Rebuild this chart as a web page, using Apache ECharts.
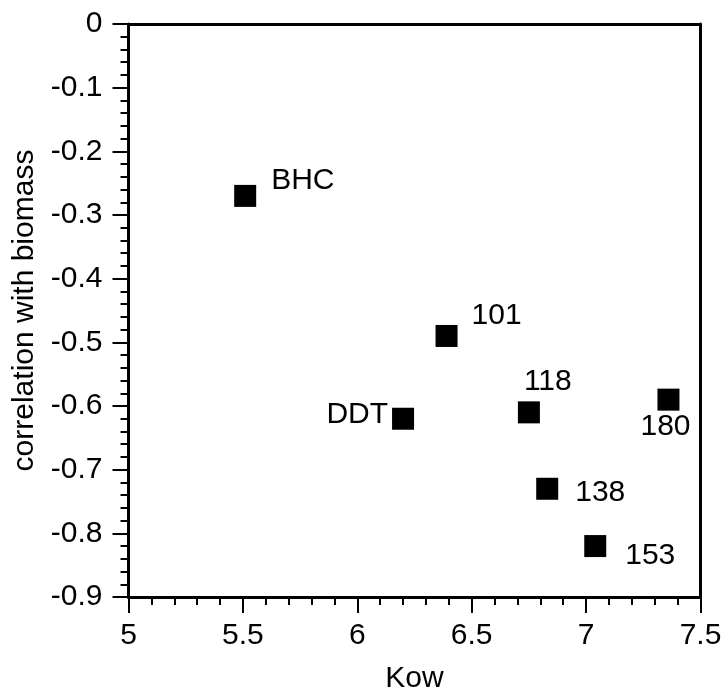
<!DOCTYPE html>
<html>
<head>
<meta charset="utf-8">
<script src="https://cdn.jsdelivr.net/npm/echarts@6/dist/echarts.min.js"></script>
<style>
  html, body { margin: 0; padding: 0; background: #fff; }
  #chart { width: 727px; height: 699px; }
</style>
</head>
<body>
<div id="chart"></div>
<script>
// Compounds, their log Kow and correlation with biomass
var compounds = ['BHC', '101', 'DDT', '118', '180', '138', '153'];
var kow = [5.51, 6.39, 6.20, 6.75, 7.36, 6.83, 7.04];
var correlation = [-0.27, -0.49, -0.62, -0.61, -0.59, -0.73, -0.82];

var xTicks = { min: 5, max: 7.5, step: 0.5 };
var yTicks = { min: -0.9, max: 0, step: 0.1 };

// Where each point's label sits relative to its marker centre
var labelPlacement = {
  'BHC': { align: 'left',  offset: [26, -15] },
  '101': { align: 'left',  offset: [25, -20] },
  'DDT': { align: 'right', offset: [-15, -4] },
  '118': { align: 'left',  offset: [-5, -31] },
  '180': { align: 'left',  offset: [-28, 27] },
  '138': { align: 'left',  offset: [28, 4] },
  '153': { align: 'left',  offset: [30, 10] }
};

var FONT = 'Liberation Sans, Arial, Helvetica, sans-serif';
var INK = '#000';
var SIZE = 30;

var points = compounds.map(function (name, i) {
  var p = labelPlacement[name];
  return {
    name: name,
    value: [kow[i], correlation[i]],
    label: {
      show: true,
      formatter: name,
      position: 'inside',
      align: p.align,
      verticalAlign: 'middle',
      offset: p.offset,
      color: INK,
      fontSize: SIZE,
      fontFamily: FONT
    }
  };
});

var chart = echarts.init(document.getElementById('chart'), null, { renderer: 'canvas' });

var frameAxis = {
  axisLine: { show: true, lineStyle: { color: INK, width: 3 } },
  axisTick: { show: false },
  axisLabel: { show: false },
  splitLine: { show: false }
};

chart.setOption({
  backgroundColor: '#fff',
  animation: false,
  grid: { left: 128.5, right: 26.5, top: 24, bottom: 100 },
  xAxis: [
    {
      type: 'value',
      position: 'bottom',
      min: xTicks.min, max: xTicks.max, interval: xTicks.step,
      name: 'Kow',
      nameLocation: 'middle',
      nameGap: 67,
      nameTextStyle: { color: INK, fontSize: SIZE, fontFamily: FONT },
      axisLine: { show: true, onZero: false, lineStyle: { color: INK, width: 3 } },
      axisTick: { show: true, length: 16, lineStyle: { color: INK, width: 2 } },
      minorTick: { show: true, splitNumber: 5, length: 8, lineStyle: { color: INK, width: 2 } },
      axisLabel: { color: INK, fontSize: SIZE, fontFamily: FONT, margin: 24 },
      splitLine: { show: false }
    },
    Object.assign({ type: 'value', position: 'top', min: xTicks.min, max: xTicks.max }, frameAxis)
  ],
  yAxis: [
    {
      type: 'value',
      position: 'left',
      min: yTicks.min, max: yTicks.max, interval: yTicks.step,
      name: 'correlation with biomass',
      nameLocation: 'middle',
      nameGap: 86,
      nameTextStyle: { color: INK, fontSize: SIZE, fontFamily: FONT },
      axisLine: { show: true, onZero: false, lineStyle: { color: INK, width: 3 } },
      axisTick: { show: true, length: 16, lineStyle: { color: INK, width: 2 } },
      minorTick: { show: true, splitNumber: 5, length: 8, lineStyle: { color: INK, width: 2 } },
      axisLabel: {
        color: INK, fontSize: SIZE, fontFamily: FONT, margin: 26,
        formatter: function (v) { return v === 0 ? '0' : v.toFixed(1); }
      },
      splitLine: { show: false }
    },
    Object.assign({ type: 'value', position: 'right', min: yTicks.min, max: yTicks.max }, frameAxis)
  ],
  series: [
    {
      type: 'scatter',
      symbol: 'rect',
      symbolSize: 22,
      itemStyle: { color: INK, opacity: 1 },
      data: points
    }
  ]
});
</script>
</body>
</html>
